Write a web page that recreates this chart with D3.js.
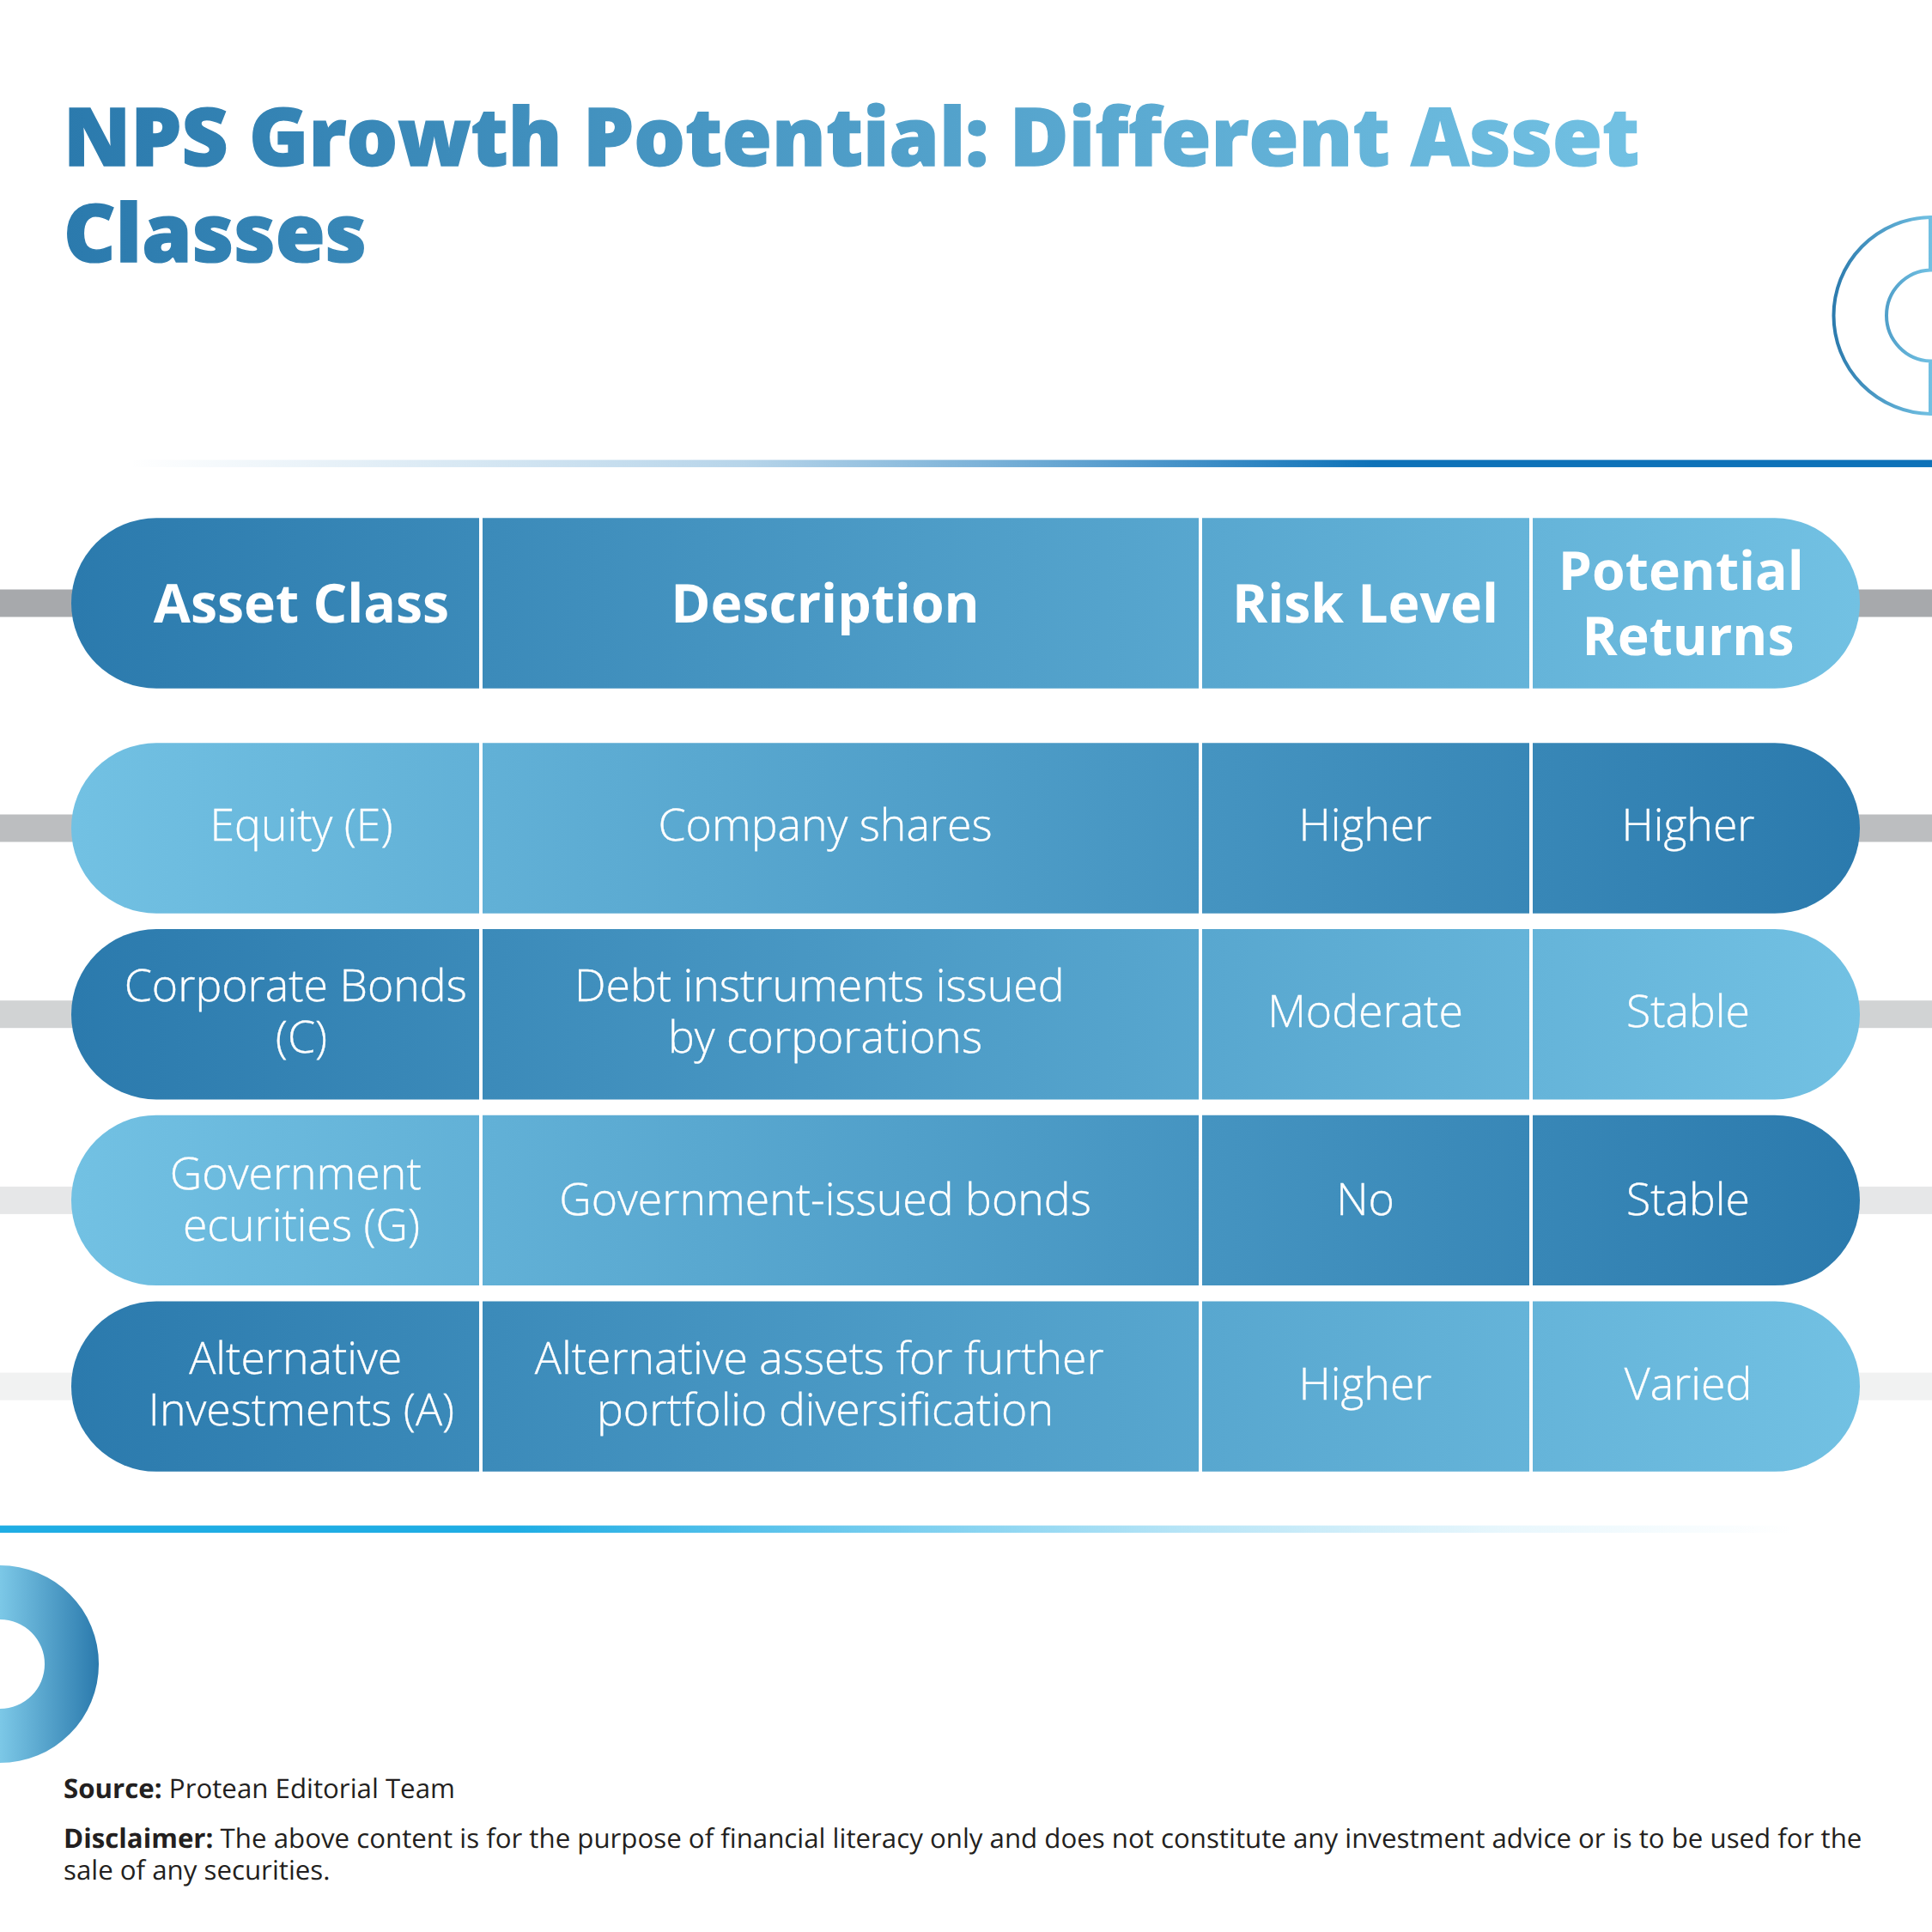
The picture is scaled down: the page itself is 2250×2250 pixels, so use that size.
<!DOCTYPE html>
<html><head><meta charset="utf-8">
<script src="https://cdn.jsdelivr.net/npm/d3@7/dist/d3.min.js"></script>
<style>
html,body{margin:0;padding:0;background:#fff}
svg{display:block}
text{font-family:"Open Sans";white-space:pre;text-rendering:geometricPrecision}
</style></head><body>
<script>
const titleLines = ["NPS Growth Potential: Different Asset", "Classes"];
const columns = ["Asset Class", "Description", "Risk Level", "Potential Returns"];
const headerCells = [["Asset Class"], ["Description"], ["Risk Level"], ["Potential ", "Returns"]];
const rowKeys = ["equity", "corporate", "government", "alternative"];
const assetClasses = [["Equity (E)"], ["Corporate Bonds ", "(C)"], ["Government ", "ecurities (G)"], ["Alternative ", "Investments (A)"]];
const descriptions = [["Company shares"], ["Debt instruments issued ", "by corporations"], ["Government-issued bonds"], ["Alternative assets for further ", "portfolio diversification"]];
const riskLevels = [["Higher"], ["Moderate"], ["No"], ["Higher"]];
const potentialReturns = [["Higher"], ["Stable"], ["Stable"], ["Varied"]];
const sideBarColors = ["#a7a9ac", "#bcbec0", "#d1d3d4", "#e6e7e8", "#f1f2f2"];
const sourceText = ["Source:", " Protean Editorial Team"];
const disclaimerText = ["Disclaimer:", " The above content is for the purpose of financial literacy only and does not constitute any investment advice or is to be used for the", "sale of any securities."];

const W = 2250, H = 2250, DARK = "#2b7aad", LIGHT = "#72c1e3";
const svg = d3.select("body").append("svg").attr("width", W).attr("height", H).attr("viewBox", `0 0 ${W} ${H}`);
const defs = svg.append("defs");
function grad(id, x1, x2, stops) {
  const g = defs.append("linearGradient").attr("id", id).attr("gradientUnits", "userSpaceOnUse")
    .attr("x1", x1).attr("x2", x2).attr("y1", 0).attr("y2", 0);
  stops.forEach(s => g.append("stop").attr("offset", s[0]).attr("stop-color", s[1]).attr("stop-opacity", s[2] === undefined ? 1 : s[2]));
}
const L = 83, R = 2166;
grad("rowDL", L, R, [[0, DARK], [1, LIGHT]]);
grad("rowLD", L, R, [[0, LIGHT], [1, DARK]]);
grad("titleG", 75, 1908, [[0, DARK], [1, LIGHT]]);
grad("topLine", 150, 1600, [[0, "#0e72b8", 0], [0.493, "#0e72b8", 0.3], [0.69, "#0e72b8", 0.55], [1, "#0e72b8", 1]]);
grad("botLine", 0, 2090, [[0.288, "#1fade4", 1], [0.473, "#1fade4", 0.65], [0.656, "#1fade4", 0.33], [0.84, "#1fade4", 0.1], [1, "#1fade4", 0]]);
grad("cOutline", 2134, 2250, [[0, DARK], [1, LIGHT]]);
grad("dFill", 0, 115, [[0, "#7cc8e7"], [1, DARK]]);

// Scales
const yBody = d3.scaleBand().domain(rowKeys).range([865.3, 1713.8]).paddingInner(0.0845).paddingOuter(0);
const rowH = yBody.bandwidth();
const yRow = k => k === "header" ? 603.3 : yBody(k);
const baselineOffset = d3.scaleOrdinal().domain(["header", ...rowKeys]).range([22.5, 14.5, 14.5, 17, 15.5]);
const colCenter = d3.scaleOrdinal().domain(columns).range([351, 961, 1590, 1966]);
const colDivider = d3.scaleOrdinal().domain(columns).range([560, 1398, 1783]);

// Title
const title = svg.append("g").attr("fill", "url(#titleG)").attr("stroke", "url(#titleG)").attr("stroke-width", 1.4)
  .attr("font-size", 93.8).attr("font-weight", 800);
title.selectAll("text").data(titleLines).join("text")
  .attr("x", 74).attr("y", (d, i) => 193 + i * 112).text(d => d);

// Decorative outline C: circle centred on the page edge, closed just inside it
const cy = 367.5, ro = 114.5, ri = 53, xe = 2248, inset = 2;
const dyO = Math.sqrt(ro * ro - inset * inset), dyI = Math.sqrt(ri * ri - inset * inset);
svg.append("path").attr("fill", "none").attr("stroke", "url(#cOutline)").attr("stroke-width", 4)
  .attr("d", `M${xe},${cy - dyO}A${ro},${ro} 0 0 0 ${xe},${cy + dyO}V${cy + dyI}A${ri},${ri} 0 0 1 ${xe},${cy - dyI}Z`);

// Rules
svg.append("rect").attr("x", 0).attr("y", 535.6).attr("width", W).attr("height", 8.5).attr("fill", "url(#topLine)");
svg.append("rect").attr("x", 0).attr("y", 1776.6).attr("width", W).attr("height", 8.5).attr("fill", "url(#botLine)");

// Table
const allRows = ["header", ...rowKeys];
svg.append("g").selectAll("rect").data(allRows).join("rect")
  .attr("x", 0).attr("width", W).attr("y", d => yRow(d) + rowH / 2 - 16).attr("height", 32)
  .attr("fill", (d, i) => sideBarColors[i]);
svg.append("g").selectAll("rect").data(allRows).join("rect")
  .attr("x", L).attr("width", R - L).attr("y", d => yRow(d)).attr("height", rowH)
  .attr("rx", 99).attr("ry", 99)
  .attr("fill", (d, i) => i % 2 === 0 ? "url(#rowDL)" : "url(#rowLD)");
svg.append("g").selectAll("rect").data(columns.slice(0, 3)).join("rect")
  .attr("x", d => colDivider(d) - 2).attr("width", 4).attr("y", 600).attr("height", 1116)
  .attr("fill", "#fff");

const tableCols = [assetClasses, descriptions, riskLevels, potentialReturns];
function drawCell(g, lines, col, key, size, weight, lead, strokeW) {
  const base = yRow(key) + rowH / 2 + baselineOffset(key);
  const start = base - (lines.length - 1) * lead / 2;
  g.selectAll(null).data(lines).join("text")
    .attr("x", colCenter(col)).attr("y", (d, i) => start + i * lead)
    .attr("text-anchor", "middle").attr("fill", "#fff")
    .attr("stroke", strokeW ? "#fff" : "none").attr("stroke-width", strokeW)
    .attr("font-size", size).attr("font-weight", weight).text(d => d);
}
const textG = svg.append("g");
columns.forEach((c, i) => drawCell(textG, headerCells[i], c, "header", 62.5, 700, 76, 0));
columns.forEach((c, i) => rowKeys.forEach((k, j) => drawCell(textG, tableCols[i][j], c, k, 51.8, 300, 60, 0.35)));

// Decorative filled half ring
const arc = d3.arc().innerRadius(52).outerRadius(115).startAngle(0).endAngle(Math.PI);
svg.append("path").attr("transform", "translate(0,1938)").attr("d", arc()).attr("fill", "url(#dFill)");

// Footer
const foot = svg.append("g").attr("font-size", 31.25).attr("fill", "#231f20");
function footLine(y, parts) {
  const t = foot.append("text").attr("x", 74).attr("y", y);
  parts.forEach((p, i) => t.append("tspan").attr("font-weight", i === 0 && parts.length > 1 ? 700 : 400).text(p));
}
footLine(2094, sourceText);
footLine(2152, disclaimerText.slice(0, 2));
footLine(2189, disclaimerText.slice(2));
</script></body></html>
